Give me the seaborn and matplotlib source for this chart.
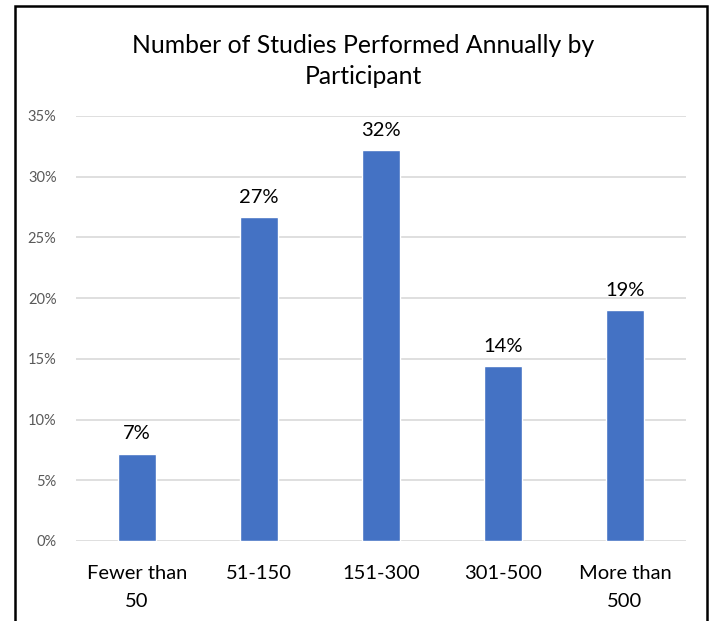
import matplotlib
matplotlib.use("Agg")
import matplotlib.pyplot as plt
import seaborn as sns
import pandas as pd
from matplotlib.patches import Rectangle

categories = ["Fewer than\n50", "51-150", "151-300", "301-500", "More than\n500"]
shares = [7.2, 26.7, 32.2, 14.4, 19.0]
yticks = [0, 5, 10, 15, 20, 25, 30, 35]
title = "Number of Studies Performed Annually by\nParticipant"

df = pd.DataFrame({"category": categories, "share": shares})

sns.set_theme(style="white")
plt.rcParams["font.family"] = ["Lato", "DejaVu Sans"]

fig = plt.figure(figsize=(7.14, 6.21), dpi=100)
ax = fig.add_axes([76 / 714, 1 - 541 / 621, 610 / 714, 425 / 621])

sns.barplot(data=df, x="category", y="share", color="#4472C4", width=0.31,
            saturation=1, ax=ax, zorder=3)

ax.set_ylim(0, 35)
ax.set_yticks(yticks)
ax.set_yticklabels([f"{t}%" for t in yticks], color="#595959", fontsize=10.5)
ax.yaxis.grid(True, color="#d9d9d9", linewidth=1.2, zorder=0)
ax.set_axisbelow(True)
ax.tick_params(axis="y", length=0, pad=14)
ax.tick_params(axis="x", length=0, pad=17, labelsize=14.5, labelcolor="#000000")
for lbl in ax.get_xticklabels():
    lbl.set_linespacing(1.8)
ax.set_xlabel("")
ax.set_ylabel("")
for s in ax.spines.values():
    s.set_visible(False)

for i, v in enumerate(shares):
    ax.annotate(f"{v:.0f}%", (i, v), xytext=(0, 8), textcoords="offset points",
                ha="center", va="bottom", fontsize=14.5, color="#000000")

fig.text(363 / 714, 1 - 61 / 621, title, ha="center", va="center",
         fontsize=17.8, color="#000000", linespacing=1.45)

fig.add_artist(Rectangle((15 / 714, -0.1), 692 / 714, 1.1 - 6 / 621,
                         transform=fig.transFigure, fill=False,
                         edgecolor="black", linewidth=1.8, clip_on=False))

fig.savefig("out.png", dpi=100, facecolor="white")
